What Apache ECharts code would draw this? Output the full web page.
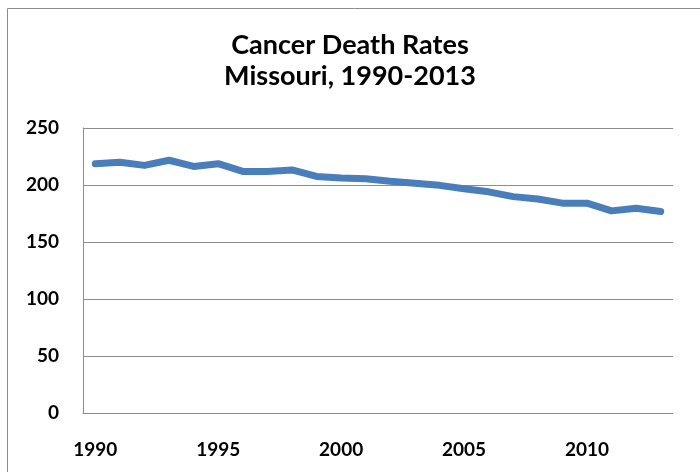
<!DOCTYPE html>
<html>
<head>
<meta charset="utf-8">
<script src="https://cdn.jsdelivr.net/npm/echarts@6/dist/echarts.min.js"></script>
<style>
  html, body { margin: 0; padding: 0; background: #fff; }
  #chart { width: 700px; height: 472px; }
</style>
</head>
<body>
<div id="chart"></div>
<script>
const years = [
  "1990", "1991", "1992", "1993", "1994", "1995", "1996", "1997",
  "1998", "1999", "2000", "2001", "2002", "2003", "2004", "2005",
  "2006", "2007", "2008", "2009", "2010", "2011", "2012", "2013",
];
const deathRates = [
  218.7, 220.0, 217.2, 221.7, 216.3, 218.7, 211.9, 211.9,
  213.2, 207.5, 206.2, 205.5, 203.2, 201.5, 199.7, 196.7,
  194.0, 189.8, 187.7, 184.1, 184.1, 177.3, 179.6, 176.8,
];
const titleLines = ["Cancer Death Rates", "Missouri, 1990-2013"];

const font = "Lato, 'Open Sans', sans-serif";
const chart = echarts.init(document.getElementById("chart"));

chart.setOption({
  animation: false,
  title: {
    text: titleLines.join("\n"),
    left: "center",
    top: 25,
    textStyle: {
      fontFamily: font,
      fontWeight: "bold",
      fontSize: 27,
      lineHeight: 31,
      color: "#000",
    },
  },
  graphic: [
    {
      type: "rect",
      shape: { x: 7.5, y: 8.5, width: 720, height: 500 },
      style: { fill: "none", stroke: "#8c8c8c", lineWidth: 1 },
      silent: true,
    },
  ],
  grid: { left: 83, right: 27, top: 128, bottom: 59 },
  xAxis: {
    type: "category",
    data: years,
    boundaryGap: true,
    axisLine: { lineStyle: { color: "#8c8c8c", width: 1 } },
    axisTick: { show: false },
    axisLabel: {
      interval: 4,
      margin: 27,
      color: "#000",
      fontFamily: font,
      fontWeight: "bold",
      fontSize: 19,
    },
  },
  yAxis: {
    type: "value",
    min: 0,
    max: 250,
    interval: 50,
    axisLine: { show: true, lineStyle: { color: "#8c8c8c", width: 1 } },
    axisTick: { show: false },
    splitLine: { lineStyle: { color: "#8c8c8c", width: 1 } },
    axisLabel: {
      margin: 24,
      color: "#000",
      fontFamily: font,
      fontWeight: "bold",
      fontSize: 19,
    },
  },
  series: [
    {
      name: "Cancer Death Rate",
      type: "line",
      data: deathRates,
      symbol: "none",
      lineStyle: { color: "#4a7ebb", width: 7, cap: "round", join: "round" },
    },
  ],
});
</script>
</body>
</html>
